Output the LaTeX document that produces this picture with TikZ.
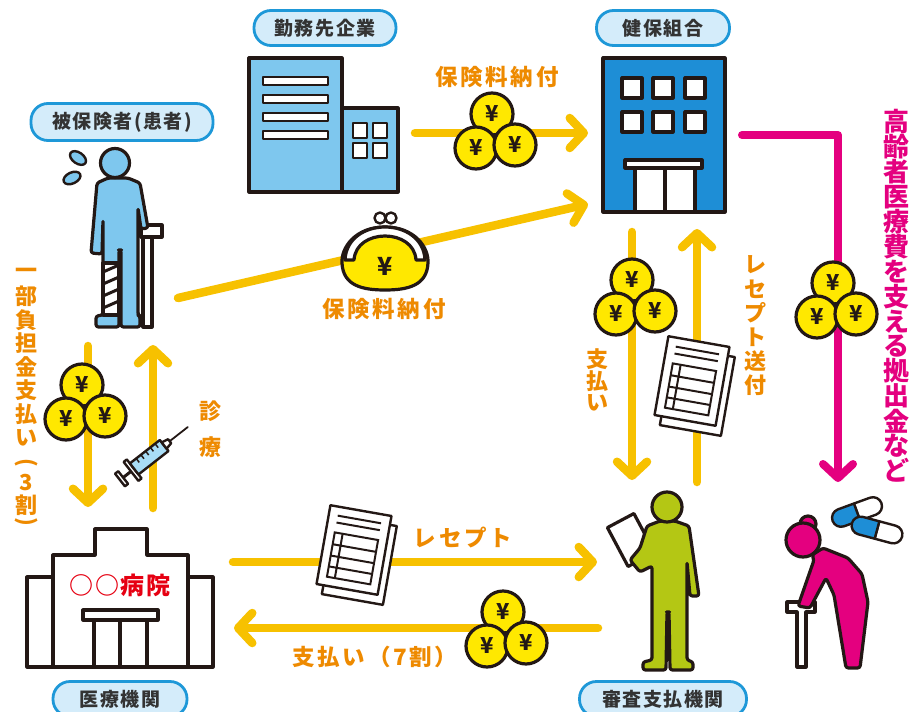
\documentclass[tikz,border=0pt]{standalone}
\usepackage{fontspec}
\usepackage{graphicx}
\setmainfont{Noto Sans CJK JP}
\newfontfamily\jpwide{Noto Sans CJK JP}[LetterSpace=12]
\newfontfamily\jplabel{Noto Sans CJK JP}[LetterSpace=8]
\usetikzlibrary{arrows.meta}

\definecolor{flow}{HTML}{F7C100}
\definecolor{flowtext}{HTML}{EE8A00}
\definecolor{mag}{HTML}{E4007F}
\definecolor{ink}{HTML}{231815}
\definecolor{sky}{HTML}{7EC7EE}
\definecolor{syr}{HTML}{A9DDF6}
\definecolor{hqblue}{HTML}{1E8ED6}
\definecolor{pillfill}{HTML}{D4ECFA}
\definecolor{pilledge}{HTML}{1E98D8}
\definecolor{lime}{HTML}{B4C714}
\definecolor{coin}{HTML}{FFE800}
\definecolor{hosp}{HTML}{E60012}
\definecolor{labeltext}{HTML}{333333}

\tikzset{
  outline/.style={draw=ink, line width=3.2pt, line join=round},
  thinline/.style={draw=ink, line width=2.4pt, line join=round},
  pill/.style={draw=pilledge, fill=pillfill, line width=2.8pt, rounded corners=17pt,
    minimum height=35pt, inner sep=0pt, text=labeltext,
    font=\jplabel\fontsize{19}{21}\selectfont\bfseries},
  flowarrow/.style={draw=flow, line width=8.5pt, line cap=round,
    -{Straight Barb[length=14pt,width=30pt,round]}},
  magarrow/.style={draw=mag, line width=8pt, line cap=round, line join=round,
    -{Straight Barb[length=14pt,width=30pt,round]}},
  otext/.style={text=flowtext, inner sep=0pt, font=\fontsize{22}{22}\selectfont\bfseries},
  owide/.style={text=flowtext, inner sep=0pt, font=\jpwide\fontsize{22.5}{22.5}\selectfont\bfseries},
  mtext/.style={text=mag, inner sep=0pt, font=\fontsize{26}{26}\selectfont\bfseries},
  yencoin/.pic={
    \draw[outline, fill=coin] (0,0) circle[radius=21];
    \node[text=ink, inner sep=0pt, font=\fontsize{22}{22}\selectfont\bfseries] at (0,0) {¥};
  },
  coinstack/.pic={
    \pic at (0,0) {yencoin};
    \pic at (-16,34) {yencoin};
    \pic at (23,31) {yencoin};
  },
  receipt/.pic={
    \draw[thinline, fill=white] (-24,-31) rectangle (38,49);
    \draw[thinline, fill=white] (-31,-40) rectangle (31,40);
    \draw[ink, line width=2pt] (-22,-31) -- (22,-31) (-22,-24) -- (22,-24);
    \draw[ink, line width=2pt] (-22,-14) rectangle (22,31);
    \draw[ink, line width=2pt] (-22,-2) -- (22,-2) (-22,9.5) -- (22,9.5)
      (-22,20.5) -- (22,20.5) (-14,-14) -- (-14,31);
  },
  syringe/.pic={
    \draw[thinline, fill=white] (0,-8) rectangle (4,8);
    \draw[ink, line width=3pt] (4,0) -- (16,0);
    \draw[thinline, fill=white] (14,-12) rectangle (18,12);
    \draw[thinline, fill=syr] (18,-7) rectangle (56,7);
    \foreach \t in {26,32,38,44,50} \draw[ink, line width=1.5pt] (\t,-7) -- (\t,-2);
    \draw[thinline, fill=white] (56,-4) -- (63,-2.5) -- (63,2.5) -- (56,4) -- cycle;
    \draw[ink, line width=1.8pt, line cap=round] (63,0) -- (86,0);
  },
  capsule/.pic={
    \draw[thinline, fill=white] (0,-9) -- (17,-9) arc(-90:90:9) -- (0,9) -- cycle;
    \draw[thinline, fill=hqblue] (0,-9) -- (-17,-9) arc(270:90:9) -- (0,9) -- cycle;
  },
  purse/.pic={
    \draw[outline, fill=coin] (0,-31) .. controls (-30,-31) and (-44,-10) .. (-43,5)
      .. controls (-42,28) and (-22,32) .. (0,32) .. controls (22,32) and (42,28) .. (43,5)
      .. controls (44,-10) and (30,-31) .. (0,-31) -- cycle;
    \draw[outline, fill=white] (-40,2) .. controls (-38,-42) and (38,-42) .. (40,2)
      -- (31,2) .. controls (29,-30) and (-29,-30) .. (-31,2) -- cycle;
    \draw[thinline, fill=white] (-5,-40) circle[radius=5.5] (6,-40) circle[radius=5.5];
    \node[text=ink, inner sep=0pt, font=\fontsize{25}{25}\selectfont\bfseries] at (0,8) {¥};
  }
}

\begin{document}
\begin{tikzpicture}[x=1pt, y=-1pt]
\useasboundingbox (0,0) rectangle (913,712);
\fill[white] (0,0) rectangle (913,712);

% ---------- employer building ----------
\draw[outline, fill=sky] (342,108) rectangle (398,192);
\draw[outline, fill=sky] (249,58) rectangle (342,192);
\foreach \y in {81,99,117,135}
  \draw[thinline, fill=white] (263,\y-4) rectangle (328,\y+4);
\foreach \x/\y in {353/123,373/123,353/143,373/143}
  \draw[thinline, fill=white] (\x,\y) rectangle (\x+14,\y+15);

% ---------- health insurance society building ----------
\draw[outline, fill=hqblue] (603,58) rectangle (725,212);
\foreach \x in {622,653,685}
  \foreach \y in {78,112}
    \draw[outline, fill=white] (\x,\y) rectangle (\x+20,\y+20);
\draw[outline, fill=white] (635,168) rectangle (695,212);
\draw[outline] (665,168) -- (665,212);
\draw[outline, fill=white] (625,160) rectangle (702,168);

% ---------- hospital ----------
\draw[outline, fill=white] (27,577) -- (53,577) -- (53,555) -- (95,555) -- (95,529)
  -- (147,529) -- (147,555) -- (188,555) -- (188,577) -- (213,577) -- (213,667)
  -- (27,667) -- cycle;
\draw[outline] (53,577) -- (53,667) (188,577) -- (188,667);
\draw[outline] (94,620) -- (94,667) (120,620) -- (120,667) (147,620) -- (147,667);
\draw[outline, fill=white] (83,610) rectangle (158,620);
\node[text=hosp, inner sep=0pt, font=\jplabel\fontsize{24}{24}\selectfont\bfseries] (hospname) at (120,585) {○○病院};

% ---------- labels ----------
\node[pill, minimum width=142pt] (company) at (325,28) {勤務先企業};
\node[pill, minimum width=133pt] (kenpo) at (663,28) {健保組合};
\node[pill, minimum width=182pt, minimum height=37pt] (insured) at (122,122) {被保険者(患者)};
\node[pill, minimum width=134pt] (medical) at (120,699) {医療機関};
\node[pill, minimum width=167pt] (review) at (663,699) {審査支払機関};

% ---------- connector ends ----------
\coordinate (coOut) at (415,133);
\coordinate (hqInA) at (588,133);
\coordinate (ptOut) at (178,298);
\coordinate (hqInB) at (588,204);
\coordinate (hqDown) at (632,232);
\coordinate (rvIn) at (632,480);
\coordinate (rvUp) at (697,482);
\coordinate (hqUp) at (697,229);
\coordinate (hqRight) at (742,135);
\coordinate (elderIn) at (838,482);
\coordinate (ptDown) at (88,346);
\coordinate (hsIn) at (88,507);
\coordinate (hsUp) at (153,508);
\coordinate (ptIn) at (153,345);
\coordinate (hsRight) at (233,562);
\coordinate (rvLeft) at (597,562);
\coordinate (rvOut) at (598,628);
\coordinate (hsLeft) at (234,628);

% ---------- money / document flows ----------
\draw[flowarrow] (coOut) -- (hqInA);
\draw[flowarrow] (ptOut) -- (hqInB);
\draw[flowarrow] (hqDown) -- (rvIn);
\draw[flowarrow] (rvUp) -- (hqUp);
\draw[flowarrow] (ptDown) -- (hsIn);
\draw[flowarrow] (hsUp) -- (ptIn);
\draw[flowarrow] (hsRight) -- (rvLeft);
\draw[flowarrow] (rvOut) -- (hsLeft);
\draw[magarrow] (hqRight) -| (elderIn);

% ---------- icons on the flows ----------
\pic at (492,114) {coinstack};
\pic at (833,283) {coinstack};
\pic at (632,280) {coinstack};
\pic at (82,385) {coinstack};
\pic at (503,612) {coinstack};
\pic at (385,258) {purse};
\pic[rotate=-10] at (692,381) {receipt};
\pic[rotate=-10] at (354,550) {receipt};
\pic[rotate=38] at (120,480) {syringe};

% ---------- flow captions ----------
\node[owide] (payTop) at (497,77) {保険料納付};
\node[owide] (payMid) at (384,309) {保険料納付};
\node[owide] (rcptH) at (463,538) {レセプト};
\node[owide] (pay7) at (375,657) {支払い（7割）};
\foreach \c [count=\i from 0] in {一,部,負,担,金,支,払,い}
  \node[otext] (copay\i) at (26,273+23.5*\i) {\c};
\node[otext] (copayA) at (26,464) {\rotatebox[origin=c]{-90}{(}};
\node[otext] (copayB) at (26,483) {3};
\node[otext] (copayC) at (26,505) {割};
\node[otext] (copayD) at (26,523) {\rotatebox[origin=c]{-90}{)}};
\node[otext] (treatA) at (210,411) {診};
\node[otext] (treatB) at (210,447) {療};
\foreach \c [count=\i from 0] in {支,払,い}
  \node[otext] (hqpay\i) at (597,359+22*\i) {\c};
\foreach \c [count=\i from 0] in {レ,セ,プ,ト,送,付}
  \node[otext] (send\i) at (755,265+24*\i) {\c};
\foreach \c [count=\i from 0] in {高,齢,者,医,療,費,を,支,え,る,拠,出,金,な,ど}
  \node[mtext] (fund\i) at (896,122+24.9*\i) {\c};

% ---------- insured patient ----------
\draw[outline, fill=white] (143,236) rectangle (152,327);
\draw[outline, fill=white] (141,225) rectangle (162,237);
\draw[outline, fill=sky, rounded corners=2.5pt] (108,178) -- (97,183) -- (91,253) -- (102,254)
  -- (103,220) -- (103,315) -- (96,316) -- (96,327) -- (119,327) -- (119,250)
  -- (121,250) -- (121,327) -- (140,327) -- (140,316) -- (138,315)
  -- (138,208) -- (141,229) -- (148,228) -- (140,183) -- (128,178) -- cycle;
\draw[outline, fill=white] (103,263) rectangle (119,315);
\foreach \y in {272,284,296,308}
  \draw[ink, line width=3pt] (103,\y) -- (119,\y-7);
\draw[outline, fill=sky] (115,163) circle[radius=14.5];
\draw[thinline, fill=sky, rotate around={-35:(78,158)}] (78,158) ellipse[x radius=9, y radius=5.5];
\draw[thinline, fill=sky, rotate around={25:(72,178)}] (72,178) ellipse[x radius=9, y radius=5.5];

% ---------- reviewer ----------
\draw[outline, fill=white, rotate around={28:(631,540)}] (616,518) rectangle (646,562);
\draw[outline, fill=lime, rounded corners=2.5pt] (660,521) -- (647,526) -- (640,548) -- (630,560)
  -- (640,572) -- (652,566) -- (652,660) -- (643,662) -- (643,670) -- (666,670)
  -- (667,612) -- (669,612) -- (670,670) -- (693,670) -- (693,662) -- (687,660)
  -- (687,562) -- (690,596) -- (699,596) -- (689,526) -- (675,521) -- cycle;
\draw[outline, fill=lime] (667,507) circle[radius=15];

% ---------- elderly person ----------
\draw[outline, fill=white] (787,602) -- (815,602) -- (815,612) -- (806,612) -- (806,667)
  -- (797,667) -- (797,612) -- (787,612) -- cycle;
\draw[outline, fill=mag, rounded corners=2.5pt] (812,555) -- (823,548) -- (848,558) -- (862,574)
  -- (868,602) -- (860,668) -- (846,668) -- (834,595) -- (826,578) -- (810,608)
  -- (798,606) -- (814,560) -- cycle;
\draw[outline, fill=mag] (808,524) circle[radius=8];
\draw[outline, fill=mag] (803,540) circle[radius=17];
\pic[rotate=20] at (857,512) {capsule};
\pic[rotate=-15] at (877,530) {capsule};
\end{tikzpicture}
\end{document}
